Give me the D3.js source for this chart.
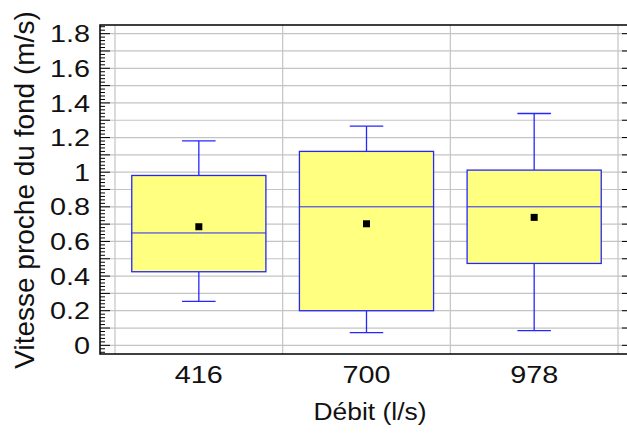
<!DOCTYPE html>
<html>
<head>
<meta charset="utf-8">
<script src="https://cdn.jsdelivr.net/npm/d3@7"></script>
<style>
  body { margin: 0; background: #fff; }
  text { font-family: "Liberation Sans", Arial, sans-serif; fill: #111; }
</style>
</head>
<body>
<svg id="chart" width="627" height="433"></svg>
<script>
// données
const categories = ['416', '700', '978'];
const whiskerLow = [0.254, 0.073, 0.085];
const q1 = [0.425, 0.200, 0.473];
const median = [0.649, 0.800, 0.800];
const q3 = [0.981, 1.120, 1.012];
const whiskerHigh = [1.181, 1.266, 1.339];
const means = [0.685, 0.702, 0.739];
const yTickLabels = [0, 0.2, 0.4, 0.6, 0.8, 1, 1.2, 1.4, 1.6, 1.8];

const frame = {left: 100, right: 632, top: 25, bottom: 354};

const svg = d3.select('#chart');

const x = d3.scaleBand()
    .domain(categories)
    .range([frame.left + 15, frame.right - 14]);
const y = d3.scaleLinear()
    .domain([-0.05, 1.85])
    .range([frame.bottom, frame.top]);

//Grille
const grid = svg.append('g').attr('class', 'grid');
grid.selectAll('line.h')
    .data(d3.range(0, 19).map(i => i / 10))
    .join('line')
    .attr('x1', frame.left).attr('x2', frame.right)
    .attr('y1', d => y(d)).attr('y2', d => y(d))
    .attr('stroke', '#c4c4c4').attr('stroke-width', 1.2);
grid.selectAll('line.v')
    .data([...categories.map(c => x(c)), x.range()[1]])
    .join('line')
    .attr('x1', d => d).attr('x2', d => d)
    .attr('y1', frame.top).attr('y2', frame.bottom)
    .attr('stroke', '#c4c4c4').attr('stroke-width', 1.2);

//Boîtes
const bw = x.bandwidth() * 0.8;
const cx = c => x(c) + x.bandwidth() / 2;
const boxes = svg.append('g').attr('class', 'boxes')
    .selectAll('g')
    .data(categories.map((c, i) => ({c, lo: whiskerLow[i], q1: q1[i], med: median[i], q3: q3[i], hi: whiskerHigh[i], mean: means[i]})))
    .join('g');

const blue = '#2626ff';
boxes.append('line')
    .attr('x1', d => cx(d.c)).attr('x2', d => cx(d.c))
    .attr('y1', d => y(d.q3)).attr('y2', d => y(d.hi))
    .attr('stroke', blue).attr('stroke-width', 1.3);
boxes.append('line')
    .attr('x1', d => cx(d.c)).attr('x2', d => cx(d.c))
    .attr('y1', d => y(d.q1)).attr('y2', d => y(d.lo))
    .attr('stroke', blue).attr('stroke-width', 1.3);
boxes.selectAll('line.cap')
    .data(d => [{c: d.c, v: d.hi}, {c: d.c, v: d.lo}])
    .join('line')
    .attr('x1', d => cx(d.c) - bw / 8).attr('x2', d => cx(d.c) + bw / 8)
    .attr('y1', d => y(d.v)).attr('y2', d => y(d.v))
    .attr('stroke', blue).attr('stroke-width', 1.3);
boxes.append('rect')
    .attr('x', d => cx(d.c) - bw / 2)
    .attr('width', bw)
    .attr('y', d => y(d.q3))
    .attr('height', d => y(d.q1) - y(d.q3))
    .attr('fill', '#ffff80')
    .attr('stroke', blue).attr('stroke-width', 1.3);
boxes.append('line')
    .attr('x1', d => cx(d.c) - bw / 2).attr('x2', d => cx(d.c) + bw / 2)
    .attr('y1', d => y(d.med)).attr('y2', d => y(d.med))
    .attr('stroke', blue).attr('stroke-width', 1);
boxes.append('rect')
    .attr('x', d => cx(d.c) - 3.5)
    .attr('y', d => y(d.mean) - 3.5)
    .attr('width', 7).attr('height', 7)
    .attr('fill', '#000');

//Axes et cadre
const minor = d3.range(-2, 93).map(i => i / 50).filter(v => v >= -0.05 && v <= 1.85);
const isMajor = v => Math.abs(v * 10 - Math.round(v * 10)) < 1e-6;
const axes = svg.append('g').attr('class', 'axes');
axes.selectAll('line.tl')
    .data(minor)
    .join('line')
    .attr('x1', frame.left).attr('x2', d => frame.left + (isMajor(d) ? 10 : 5))
    .attr('y1', d => y(d)).attr('y2', d => y(d))
    .attr('stroke', '#000').attr('stroke-width', 1);
axes.selectAll('line.tr')
    .data(minor)
    .join('line')
    .attr('x1', frame.right).attr('x2', d => frame.right - (isMajor(d) ? 10 : 5))
    .attr('y1', d => y(d)).attr('y2', d => y(d))
    .attr('stroke', '#000').attr('stroke-width', 1);
axes.append('rect')
    .attr('x', frame.left).attr('y', frame.top)
    .attr('width', frame.right - frame.left)
    .attr('height', frame.bottom - frame.top)
    .attr('fill', 'none').attr('stroke', '#000').attr('stroke-width', 1.5);

//Étiquettes
svg.append('g').selectAll('text')
    .data(yTickLabels)
    .join('text')
    .attr('transform', d => `translate(90 ${y(d)}) scale(1.2 1)`)
    .attr('text-anchor', 'end')
    .attr('dy', '0.36em')
    .style('font-size', '24px')
    .text(d => d);
svg.append('g').selectAll('text')
    .data(categories)
    .join('text')
    .attr('transform', d => `translate(${cx(d)} 383) scale(1.2 1)`)
    .attr('text-anchor', 'middle')
    .style('font-size', '24px')
    .text(d => d);

svg.append('text')
    .attr('transform', 'translate(370 420) scale(1.1 1)')
    .attr('text-anchor', 'middle')
    .style('font-size', '24px')
    .text('Débit (l/s)');
svg.append('text')
    .attr('transform', 'translate(34 190) rotate(-90)')
    .attr('text-anchor', 'middle')
    .style('font-size', '28px')
    .text('Vitesse proche du fond (m/s)');
</script>
</body>
</html>
